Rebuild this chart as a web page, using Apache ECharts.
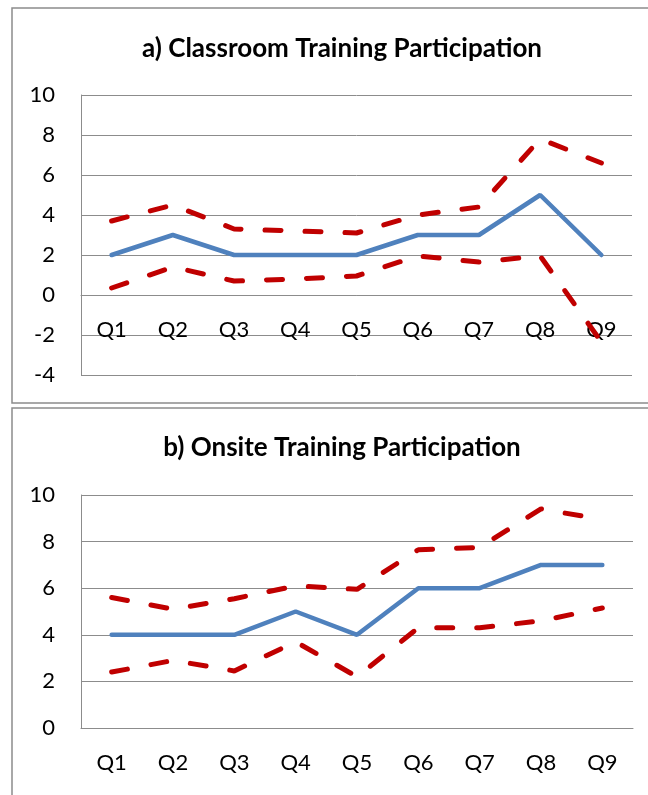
<!DOCTYPE html>
<html>
<head>
<meta charset="utf-8">
<title>Training Participation</title>
<script src="https://cdn.jsdelivr.net/npm/echarts@6/dist/echarts.min.js"></script>
<style>
  html, body { margin: 0; padding: 0; background: #fff; }
  #chart { width: 648px; height: 795px; }
</style>
</head>
<body>
<div id="chart"></div>
<script>
// categories and values
var quarters = ['Q1', 'Q2', 'Q3', 'Q4', 'Q5', 'Q6', 'Q7', 'Q8', 'Q9'];

// a) classroom
var classMean  = [2, 3, 2, 2, 2, 3, 3, 5, 2];
var classUpper = [3.7, 4.5, 3.3, 3.2, 3.1, 4.0, 4.4, 7.8, 6.6];
var classLower = [0.35, 1.4, 0.7, 0.8, 0.95, 1.95, 1.65, 1.95, -2.35];

// b) onsite
var onsiteMean  = [4, 4, 4, 5, 4, 6, 6, 7, 7];
var onsiteUpper = [5.6, 5.1, 5.55, 6.1, 5.95, 7.65, 7.75, 9.4, 8.95];
var onsiteLower = [2.4, 2.9, 2.45, 3.7, 2.2, 4.3, 4.3, 4.6, 5.15];

var titles = ['a) Classroom Training Participation', 'b) Onsite Training Participation'];

var FONT = 'Lato, "Open Sans", sans-serif';
var blue = '#4F81BD';
var red = '#C00000';
var gridGrey = '#8C8C8C';

var chart = echarts.init(document.getElementById('chart'));

// onZero does not kick in here, so panel a's axis is lifted to the 0 line by offset
function xAxisFor(idx, offset) {
    return {
        type: 'category',
        gridIndex: idx,
        data: quarters,
        boundaryGap: true,
        offset: offset,
        axisLine: { onZero: false, lineStyle: { color: gridGrey, width: 1 } },
        axisTick: { show: false },
        axisLabel: { color: '#000', fontFamily: FONT, fontSize: 22, margin: 24 }
    };
}

function yAxisFor(idx, min) {
    return {
        type: 'value',
        gridIndex: idx,
        min: min,
        max: 10,
        interval: 2,
        axisLine: { show: true, lineStyle: { color: gridGrey, width: 1 } },
        axisTick: { show: false },
        axisLabel: { color: '#000', fontFamily: FONT, fontSize: 22, margin: 26 },
        splitLine: { show: true, lineStyle: { color: gridGrey, width: 1 } }
    };
}

function solid(idx, data) {
    return {
        type: 'line', xAxisIndex: idx, yAxisIndex: idx, data: data,
        symbol: 'none', lineStyle: { color: blue, width: 4.5, cap: 'round' }, z: 3
    };
}

function dashed(idx, data) {
    return {
        type: 'line', xAxisIndex: idx, yAxisIndex: idx, data: data,
        symbol: 'none', lineStyle: { color: red, width: 5, type: [16, 24], cap: 'round' }, z: 4
    };
}

chart.setOption({
    animation: false,
    title: [
        { text: titles[0], left: 337, textAlign: 'center', top: 31,
          textStyle: { fontFamily: FONT, fontSize: 26, fontWeight: 'bold', color: '#000' } },
        { text: titles[1], left: 337, textAlign: 'center', top: 430,
          textStyle: { fontFamily: FONT, fontSize: 26, fontWeight: 'bold', color: '#000' } }
    ],
    graphic: [
        { type: 'rect', shape: { x: 12, y: 8, width: 660, height: 395 },
          style: { fill: 'none', stroke: '#8C8C8C', lineWidth: 1.5 }, silent: true },
        { type: 'rect', shape: { x: 12, y: 408, width: 660, height: 400 },
          style: { fill: 'none', stroke: '#8C8C8C', lineWidth: 1.5 }, silent: true }
    ],
    grid: [
        { left: 81, right: 16, top: 95, height: 280 },
        { left: 81, right: 15, top: 495, height: 233 }
    ],
    xAxis: [xAxisFor(0, -80), xAxisFor(1, 0)],
    yAxis: [yAxisFor(0, -4), yAxisFor(1, 0)],
    series: [
        solid(0, classMean), dashed(0, classUpper), dashed(0, classLower),
        solid(1, onsiteMean), dashed(1, onsiteUpper), dashed(1, onsiteLower)
    ]
});
</script>
</body>
</html>
